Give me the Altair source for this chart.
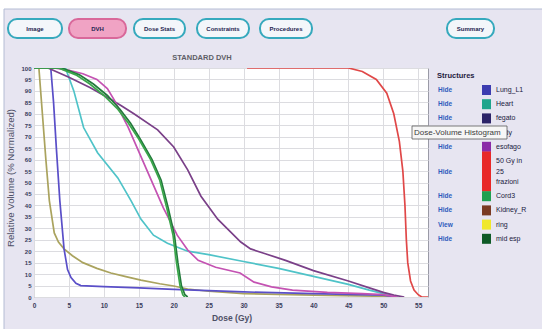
import altair as alt
import pandas as pd

# ---------------- DVH curves: dose (Gy) vs relative volume (%) ----------------
kidney_dose = [0, 0.7, 1.2, 1.7, 2.2, 2.9, 3.5, 4.3, 5.5, 7, 9, 11, 13, 15.3, 18, 20, 22, 25, 30, 40, 50, 52]
kidney_vol = [100, 100, 80, 60, 42, 28, 24, 21, 18, 15, 12.5, 10.5, 9, 7.4, 5.8, 4.8, 3.5, 2.5, 1.5, 0.8, 0.3, 0]

lung_dose = [0, 2.4, 2.8, 3.2, 3.7, 4.3, 4.8, 5.3, 6, 6.7, 10, 15, 20, 25, 30, 40, 50, 52]
lung_vol = [100, 100, 85, 65, 42, 21, 12, 8.5, 6, 5, 4.5, 4, 3.3, 2.8, 2.2, 1.5, 0.8, 0]

heart_dose = [0, 4.5, 5.7, 7.1, 9.1, 12, 13.9, 15.3, 17.1, 19.1, 22, 25, 30, 35, 40, 45, 48, 50, 51.5, 52]
heart_vol = [100, 100, 90, 74, 63, 52, 42, 34, 27, 23.5, 20, 18.5, 15.5, 12.5, 9, 5.5, 3, 1.5, 0.5, 0]

fegato_dose = [0, 2, 5, 8, 10.6, 12.5, 14.3, 17.7, 20, 22, 23.9, 26.3, 29.6, 31, 33, 36, 40, 45, 48, 50, 51.5, 53]
fegato_vol = [100, 100, 96, 91.5, 87, 83.5, 80, 73, 65.5, 55.5, 44, 34, 24, 21, 19, 16, 11.5, 7, 4, 2, 0.8, 0]

esofago_dose = [0, 2.9, 5, 7, 9, 10.5, 11.5, 12.5, 13.5, 14.5, 15.5, 16.5, 17.5, 18.5, 19.5, 20.5, 22,
                23.5, 26, 29.5, 31.5, 34, 37, 42, 47, 50, 52]
esofago_vol = [100, 100, 99, 97.5, 95, 91, 86, 80, 74, 67, 60, 53, 46, 39, 33, 27, 20.5,
               16, 13, 10.5, 6.5, 4.4, 3, 2, 1.5, 1, 0]

cord_dose = [0, 3.5, 6, 8, 10, 12, 13.5, 15, 16.7, 18, 19, 19.9, 20.4, 20.9, 21.3, 21.6]
cord_vol = [100, 100, 97, 93, 88, 82, 76, 69, 60, 51, 39, 27, 15, 5, 1, 0]

midesp_dose = [0, 4, 6.5, 8.5, 10.5, 12.3, 13.8, 15.2, 16.9, 18.2, 19.2, 20.1, 20.6, 21.1, 21.6, 22]
midesp_vol = [100, 100, 97, 93, 88, 82, 76, 69, 60, 51, 39, 27, 15, 5, 1, 0]

ptv_dose = [30.5, 45, 47, 49, 50.5, 51.5, 52.3, 52.8, 53.1, 53.3, 53.5, 53.9, 54.4, 55, 55.5, 56.4]
ptv_vol = [100, 100, 98.5, 95, 89, 80, 68, 55, 40, 25, 15, 7, 3, 1, 0, 0]

curves = [
    ("Kidney_R", kidney_dose, kidney_vol, "#aaa35e"),
    ("Lung_L1", lung_dose, lung_vol, "#5a4fc8"),
    ("Heart", heart_dose, heart_vol, "#4fc3c8"),
    ("fegato", fegato_dose, fegato_vol, "#7a4088"),
    ("50 Gy in 25 frazioni", ptv_dose, ptv_vol, "#e04848"),
    ("esofago", esofago_dose, esofago_vol, "#c452b2"),
    ("mid esp", midesp_dose, midesp_vol, "#237a3c"),
    ("Cord3", cord_dose, cord_vol, "#3aa64a"),
]

# ---------------- structure list ----------------
structure_names = ["Lung_L1", "Heart", "fegato", "Body", "esofago", "50 Gy in\n25\nfrazioni",
                   "Cord3", "Kidney_R", "ring", "mid esp"]
structure_status = ["Hide", "Hide", "Hide", "Hide", "Hide", "Hide", "Hide", "Hide", "View", "Hide"]
structure_colors = ["#3c3cb0", "#1fa58c", "#2c2468", "#8a6a4a", "#8a2aa8", "#e82828",
                    "#1fa050", "#7a3a22", "#f0e82a", "#0e5a26"]

# ---------------- navigation buttons ----------------
button_labels = ["Image", "DVH", "Dose Stats", "Constraints", "Procedures", "Summary"]
button_active = ["DVH"]

# ---------------- layout (page pixels) ----------------
PAGE_W, PAGE_H = 542, 329
LEFT, TOP = 34, 68
W, H = 394, 229
X_MAX = 56.4
LINE_H = 10.5


def px(v):
    return v - LEFT


def py(v):
    return v - TOP


def rects(df, **kw):
    return alt.Chart(df).mark_rect(**kw).encode(
        x=alt.X("x:Q", scale=None, axis=None), x2="x2:Q",
        y=alt.Y("y:Q", scale=None, axis=None), y2="y2:Q",
        fill=alt.Fill("fill:N", scale=None), stroke=alt.Stroke("stroke:N", scale=None),
    )


def texts(df, **kw):
    return alt.Chart(df).mark_text(**kw).encode(
        x=alt.X("x:Q", scale=None, axis=None), y=alt.Y("y:Q", scale=None, axis=None), text="label:N"
    )


def hline(x0, x1, y, color):
    return alt.Chart(pd.DataFrame({"x": [px(x0), px(x1)], "y": [py(y), py(y)]})).mark_line(
        color=color, strokeWidth=1
    ).encode(x=alt.X("x:Q", scale=None, axis=None), y=alt.Y("y:Q", scale=None, axis=None))


def vline(x, y0, y1, color):
    return alt.Chart(pd.DataFrame({"x": [px(x), px(x)], "y": [py(y0), py(y1)]})).mark_line(
        color=color, strokeWidth=1
    ).encode(x=alt.X("x:Q", scale=None, axis=None), y=alt.Y("y:Q", scale=None, axis=None))


# window frame: white strip at top and left of the panel
frame = pd.DataFrame({
    "x": [px(0), px(0)], "x2": [px(PAGE_W), px(4)],
    "y": [py(0), py(0)], "y2": [py(9), py(PAGE_H)],
    "fill": ["#ffffff", "#ffffff"], "stroke": ["#ffffff", "#ffffff"],
})
frame_layer = rects(frame, strokeWidth=0)
frame_edge_v = vline(4, PAGE_H, 9, "#b4bcd4")
frame_edge_h = hline(4, PAGE_W, 9, "#b4bcd4")

# buttons
btn_left = [8, 69, 134, 197, 260, 447]
btn_right = [62, 126, 185, 249, 312, 494]
btn = pd.DataFrame({
    "label": button_labels,
    "x": [px(v) for v in btn_left], "x2": [px(v) for v in btn_right],
    "y": [py(19)] * 6, "y2": [py(38)] * 6,
    "fill": ["#f0a3c4" if b in button_active else "#f3f6fa" for b in button_labels],
    "stroke": ["#d9689a" if b in button_active else "#36a9bd" for b in button_labels],
})
btn["cx"] = (btn["x"] + btn["x2"]) / 2
btn["cy"] = py(28.5)
button_rects = rects(btn, cornerRadius=9, strokeWidth=2)
button_text = alt.Chart(btn).mark_text(
    font="Liberation Sans", fontSize=6, fontWeight="bold", color="#1e2450"
).encode(x=alt.X("cx:Q", scale=None, axis=None), y=alt.Y("cy:Q", scale=None, axis=None), text="label:N")

# titles
title_layer = texts(pd.DataFrame({"x": [px(202)], "y": [py(58)], "label": ["STANDARD DVH"]}),
                    font="Liberation Sans", fontSize=7.5, fontWeight="bold", color="#5e5e66")
ytitle_layer = texts(pd.DataFrame({"x": [px(11)], "y": [py(178)], "label": ["Relative Volume (% Normalized)"]}),
                     font="Liberation Sans", fontSize=9.6, color="#4e5066", angle=270)
xtitle_layer = texts(pd.DataFrame({"x": [px(232)], "y": [py(318)], "label": ["Dose (Gy)"]}),
                     font="Liberation Sans", fontSize=8.5, fontWeight="bold", color="#4e5066")

# structure legend: row centres stacked by the number of text lines in each row
centers = []
yc = 90.0
prev_h = None
for name in structure_names:
    n = name.count("\n") + 1
    h = 14.2 + (n - 1) * LINE_H
    if prev_h is not None:
        yc += prev_h / 2 + h / 2
    centers.append(yc)
    prev_h = h
lines = [n.count("\n") + 1 for n in structure_names]
legend = pd.DataFrame({
    "label": structure_names,
    "status": structure_status,
    "fill": structure_colors,
    "stroke": structure_colors,
})
legend["x"] = px(482)
legend["x2"] = px(491)
legend["y"] = [py(c) - 5 - (k - 1) * 7.5 for c, k in zip(centers, lines)]
legend["y2"] = [py(c) + 5 + (k - 1) * 7.5 for c, k in zip(centers, lines)]
legend["yc"] = [py(c) for c in centers]
legend["yt"] = [py(c) - (k - 1) * LINE_H / 2 for c, k in zip(centers, lines)]
legend["xn"] = px(496)
legend["xh"] = px(438)

legend_head = texts(pd.DataFrame({"x": [px(437)], "y": [py(76)], "label": ["Structures"]}),
                    font="Liberation Sans", fontSize=7.5, fontWeight="bold", color="#1e2040", align="left")
legend_swatch = rects(legend, strokeWidth=0)
legend_names = alt.Chart(legend).mark_text(
    font="Liberation Sans", fontSize=7, color="#202040", align="left", lineBreak="\n", lineHeight=LINE_H
).encode(x=alt.X("xn:Q", scale=None, axis=None), y=alt.Y("yt:Q", scale=None, axis=None), text="label:N")
legend_hide = alt.Chart(legend).mark_text(
    font="Liberation Sans", fontSize=6.5, fontWeight="bold", color="#2f5bbd", align="left"
).encode(x=alt.X("xh:Q", scale=None, axis=None), y=alt.Y("yc:Q", scale=None, axis=None), text="status:N")

# hover tooltip box
tip = pd.DataFrame({"x": [px(412)], "x2": [px(507)], "y": [py(126)], "y2": [py(139)],
                    "fill": ["#f6f6f6"], "stroke": ["#5a5a5a"]})
tip_box = rects(tip, strokeWidth=0.8)
tip_text = texts(pd.DataFrame({"x": [px(414)], "y": [py(132.5)], "label": ["Dose-Volume Histogram"]}),
                 font="Liberation Sans", fontSize=8, color="#3c3c3c", align="left")

# DVH curves
rows = []
for name, d, v, _ in curves:
    for i, (dd, vv) in enumerate(zip(d, v)):
        rows.append({"structure": name, "dose": dd, "volume": vv, "order": i})
dvh = pd.DataFrame(rows)

curve_layer = alt.Chart(dvh).mark_line(strokeWidth=1.7, clip=True).encode(
    x=alt.X("dose:Q", scale=alt.Scale(domain=[0, X_MAX], nice=False, zero=False),
            axis=alt.Axis(values=list(range(0, 56, 5)), title=None, grid=True, ticks=False,
                          domain=False, labelPadding=5, labelFontSize=6.5, labelFont="Liberation Sans",
                          labelFontWeight="bold", labelColor="#3a3c5c", gridColor="#dcdce0",
                          labelFlush=False)),
    y=alt.Y("volume:Q", scale=alt.Scale(domain=[0, 100], nice=False),
            axis=alt.Axis(values=list(range(0, 101, 5)), title=None, grid=True, ticks=False,
                          domain=False, labelPadding=3, labelFontSize=6, labelFont="Liberation Sans",
                          labelFontWeight="bold", labelColor="#3a3c5c", gridColor="#dcdce0")),
    color=alt.Color("structure:N",
                    scale=alt.Scale(domain=[c[0] for c in curves], range=[c[3] for c in curves]),
                    legend=None),
    detail="structure:N",
    order="order:Q",
)

chart = alt.layer(
    frame_layer, frame_edge_v, frame_edge_h,
    button_rects, button_text,
    title_layer, ytitle_layer, xtitle_layer,
    curve_layer,
    legend_head, legend_swatch, legend_names, legend_hide,
    tip_box, tip_text,
).properties(
    width=W, height=H,
    autosize=alt.AutoSizeParams(type="none"),
    padding={"left": LEFT, "top": TOP, "right": PAGE_W - LEFT - W, "bottom": PAGE_H - TOP - H},
    background="#e7e5f1",
).configure_view(
    fill="#ffffff", stroke="#9a9aa6", strokeWidth=1
)

chart.save("out.html", embed_options={"renderer": "svg", "actions": False})
